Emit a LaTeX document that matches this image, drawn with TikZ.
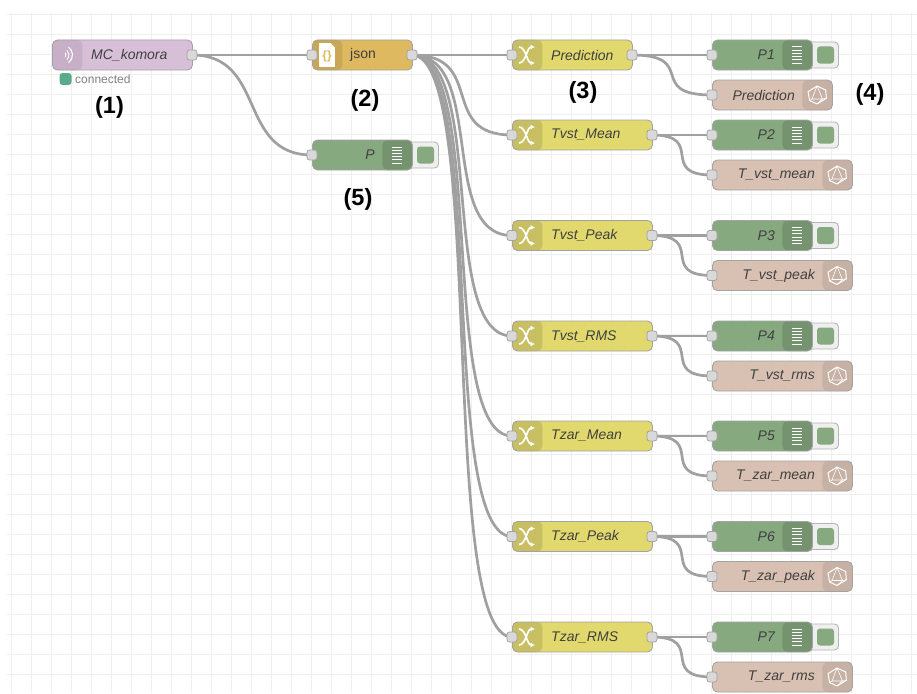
\documentclass[tikz,border=0pt]{standalone}
\usepackage{fontspec}
\setmainfont{Liberation Sans}
\usetikzlibrary{arrows.meta,backgrounds}
\definecolor{mqttfill}{HTML}{D8BFD8}
\definecolor{jsonfill}{HTML}{DEB95F}
\definecolor{switchfill}{HTML}{E2D96E}
\definecolor{debugfill}{HTML}{87A980}
\definecolor{gaugefill}{HTML}{D8C1B2}
\definecolor{nodeborder}{HTML}{A3A3A3}
\definecolor{gridgray}{HTML}{EFEFEF}
\definecolor{wiregray}{HTML}{A0A0A0}
\definecolor{portgray}{HTML}{D9D9D9}
\definecolor{statusgreen}{HTML}{5BAA8A}
\begin{document}
\begin{tikzpicture}[x=1pt,y=-1pt,
   flowbody/.style={draw=nodeborder,line width=.9pt,rounded corners=5pt,
      minimum height=30pt,inner sep=0pt,anchor=west},
   bandleft/.style={path picture={
      \fill[#1] (path picture bounding box.north west) rectangle
         ([xshift=30pt]path picture bounding box.south west);}},
   bandright/.style={path picture={
      \fill[#1] (path picture bounding box.north east) rectangle
         ([xshift=-30pt]path picture bounding box.south east);}},
   flowtext/.style={font=\fontsize{14}{16}\selectfont\itshape,text=black!75,inner sep=0pt},
   tag/.style={font=\fontsize{23.5}{26}\selectfont\bfseries,inner sep=0pt},
   port/.style={draw=nodeborder,fill=portgray,line width=.8pt,rounded corners=2.5pt,
      minimum size=10pt,inner sep=0pt},
   wire/.style={draw=wiregray,line width=2.7pt,
      to path={.. controls +(#1,0) and +(-#1,0) .. (\tikztotarget)}},
   iconline/.style={draw=white,line width=1pt},
   pics/wavesicon/.style={code={
      \draw[iconline,line width=.9pt] (-4,0) ++(-45:3pt) arc[start angle=-45,end angle=45,radius=3pt];
      \draw[iconline,line width=.9pt] (-4,0) ++(-50:6pt) arc[start angle=-50,end angle=50,radius=6pt];
      \draw[iconline,line width=1.1pt] (-4,0) ++(-55:9.5pt) arc[start angle=-55,end angle=55,radius=9.5pt];
   }},
   pics/shuffleicon/.style={code={
      \draw[iconline,line width=1.7pt,-{Latex[length=4.5pt,width=5pt]}] (-8,-8) .. controls (-1,-8) and (0,8) .. (8,8);
      \draw[iconline,line width=1.7pt,-{Latex[length=4.5pt,width=5pt]}] (-8,8) .. controls (-1,8) and (0,-8) .. (8,-8);
   }},
   pics/listicon/.style={code={
      \draw[iconline] (-5,-8) -- (5,-8) (-5,-4.8) -- (5,-4.8) (-5,-1.6) -- (5,-1.6)
         (-5,1.6) -- (5,1.6) (-5,4.8) -- (5,4.8) (-5,8) -- (5,8);
   }},
   pics/gemicon/.style={code={
      \draw[iconline,line join=round] (0,-9) -- (8.7,-5) -- (9.3,3.3) -- (0,9) -- (-7.3,5.6) -- (-9,-3.3) -- cycle;
      \draw[iconline,line width=.6pt,line join=round] (0,-9) -- (-5,4) -- (5.5,4) -- cycle
         (-5,4) -- (-7.3,5.6) (5.5,4) -- (9.3,3.3) (5.5,4) -- (0,9);
   }},
   pics/switchnode/.style 2 args={code={
      \node[flowbody,fill=switchfill,minimum width=#1pt,bandleft=switchfill!88!black] (body) at (0,0) {};
      \node[flowtext,anchor=west] (label) at (39,0) {#2};
      \pic at (15,0) {shuffleicon};
      \node[port] (in) at (0,0) {};
      \node[port] (out) at (#1,0) {};
   }},
   pics/debugnode/.style={code={
      \node[draw=nodeborder!80,fill=gridgray,line width=.9pt,rounded corners=4pt,minimum width=32pt,minimum height=26pt,anchor=west,inner sep=0pt] (box) at (94,0) {};
      \node[fill=debugfill,rounded corners=3pt,minimum size=17pt,inner sep=0pt] (square) at (113.5,0) {};
      \node[flowbody,fill=debugfill,minimum width=100pt,bandright=debugfill!87!black] (body) at (0,0) {};
      \node[flowtext,anchor=east] (label) at (63,0) {#1};
      \pic at (85,0) {listicon};
      \node[port] (in) at (0,0) {};
   }},
   pics/gaugenode/.style 2 args={code={
      \node[flowbody,fill=gaugefill,minimum width=#1pt,bandright=gaugefill!92!black] (body) at (0,0) {};
      \node[flowtext,anchor=east] (label) at (#1-37,0) {#2};
      \pic at (#1-15,0) {gemicon};
      \node[port] (in) at (0,0) {};
   }}]
\useasboundingbox (0,0) rectangle (917,693);
\node[flowbody,fill=mqttfill,minimum width=140pt,bandleft=mqttfill!92!black] (komorabody) at (52,55) {};
\node[flowtext,anchor=west] (komoralabel) at (91,55) {MC\_komora};
\pic at (67,55) {wavesicon};
\node[port] (komoraout) at (192,55) {};
\node[fill=statusgreen,rounded corners=3pt,minimum size=12pt,inner sep=0pt] (komoradot) at (65.5,79) {};
\node[font=\fontsize{12}{14}\selectfont,text=black!50,inner sep=0pt,anchor=west] (komorastatus) at (75,79) {connected};
\node[flowbody,fill=jsonfill,minimum width=100pt,bandleft=jsonfill!90!black] (jsonbody) at (312,55) {};
\node[font=\fontsize{14}{16}\selectfont,text=black!75,inner sep=0pt,anchor=west] (jsonlabel) at (350,55) {json};
\node[fill=white,inner sep=0pt,minimum width=16pt,minimum height=24pt] (jsonpage) at (327,55) {};
\fill[jsonfill!90!black] (335.5,42.5) -- (330,42.5) -- (335.5,48) -- cycle;
\node[font=\fontsize{12}{14}\selectfont\bfseries,text=jsonfill,inner sep=0pt] (jsonicon) at (327,56) {\{\}};
\node[port] (jsonin) at (312,55) {};
\node[port] (jsonout) at (412,55) {};
\pic (pall) at (312,155) {debugnode={P}};
\pic (sw1) at (512,55) {switchnode={120}{Prediction}};
\pic (sw2) at (512,135) {switchnode={140}{Tvst\_Mean}};
\pic (sw3) at (512,235.5) {switchnode={140}{Tvst\_Peak}};
\pic (sw4) at (512,336) {switchnode={140}{Tvst\_RMS}};
\pic (sw5) at (512,436) {switchnode={140}{Tzar\_Mean}};
\pic (sw6) at (512,536.5) {switchnode={140}{Tzar\_Peak}};
\pic (sw7) at (512,637) {switchnode={140}{Tzar\_RMS}};
\pic (p1) at (712,55) {debugnode={P1}};
\pic (p2) at (712,135) {debugnode={P2}};
\pic (p3) at (712,235.5) {debugnode={P3}};
\pic (p4) at (712,336) {debugnode={P4}};
\pic (p5) at (712,436) {debugnode={P5}};
\pic (p6) at (712,536.5) {debugnode={P6}};
\pic (p7) at (712,637) {debugnode={P7}};
\pic (g1) at (712,95) {gaugenode={120}{Prediction}};
\pic (g2) at (712,175) {gaugenode={140}{T\_vst\_mean}};
\pic (g3) at (712,275.5) {gaugenode={140}{T\_vst\_peak}};
\pic (g4) at (712,376) {gaugenode={140}{T\_vst\_rms}};
\pic (g5) at (712,476) {gaugenode={140}{T\_zar\_mean}};
\pic (g6) at (712,576.5) {gaugenode={140}{T\_zar\_peak}};
\pic (g7) at (712,677) {gaugenode={140}{T\_zar\_rms}};
\node[tag] (tag1) at (109.5,107) {(1)};
\node[tag] (tag2) at (365,100) {(2)};
\node[tag] (tag3) at (583,92) {(3)};
\node[tag] (tag4) at (870,94.5) {(4)};
\node[tag] (tag5) at (358,199) {(5)};
\begin{pgfonlayer}{background}
\fill[white] (0,0) rectangle (917,693);
\draw[gridgray,line width=1pt,step=20pt,xshift=11.7pt,yshift=-14.3pt] (-4.7,-1.3) grid (905.3,678.7);
\draw[wire=75pt] (komoraout.center) to (jsonin.center);
\draw[wire=75pt] (komoraout.center) to (pallin.center);
\draw[wire=75pt] (jsonout.center) to (sw1in.center);
\draw[wire=75pt] (jsonout.center) to (sw2in.center);
\draw[wire=75pt] (jsonout.center) to (sw3in.center);
\draw[wire=75pt] (jsonout.center) to (sw4in.center);
\draw[wire=75pt] (jsonout.center) to (sw5in.center);
\draw[wire=75pt] (jsonout.center) to (sw6in.center);
\draw[wire=75pt] (jsonout.center) to (sw7in.center);
\draw[wire=60pt] (sw1out.center) to (p1in.center);
\draw[wire=67pt] (sw1out.center) to (g1in.center);
\draw[wire=45pt] (sw2out.center) to (p2in.center);
\draw[wire=54pt] (sw2out.center) to (g2in.center);
\draw[wire=45pt] (sw3out.center) to (p3in.center);
\draw[wire=54pt] (sw3out.center) to (g3in.center);
\draw[wire=45pt] (sw4out.center) to (p4in.center);
\draw[wire=54pt] (sw4out.center) to (g4in.center);
\draw[wire=45pt] (sw5out.center) to (p5in.center);
\draw[wire=54pt] (sw5out.center) to (g5in.center);
\draw[wire=45pt] (sw6out.center) to (p6in.center);
\draw[wire=54pt] (sw6out.center) to (g6in.center);
\draw[wire=45pt] (sw7out.center) to (p7in.center);
\draw[wire=54pt] (sw7out.center) to (g7in.center);
\end{pgfonlayer}
\end{tikzpicture}
\end{document}
